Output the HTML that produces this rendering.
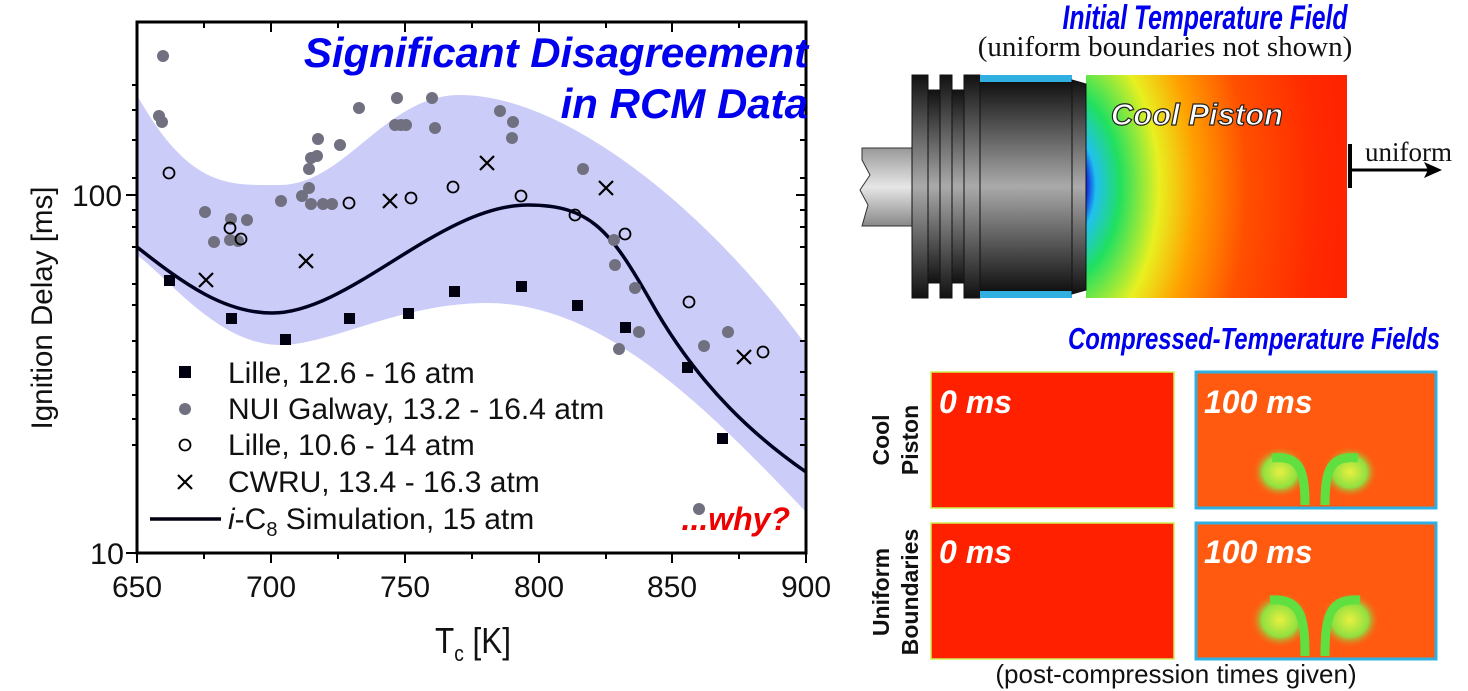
<!DOCTYPE html>
<html><head><meta charset="utf-8"><style>
html,body{margin:0;padding:0;background:#fff;}
svg{display:block;font-family:"Liberation Sans",sans-serif;}
</style></head><body>
<svg width="1468" height="691" viewBox="0 0 1468 691" xmlns="http://www.w3.org/2000/svg">
<defs>
<linearGradient id="metal" x1="0" y1="0" x2="0" y2="1">
<stop offset="0" stop-color="#111"/><stop offset="0.5" stop-color="#aaa"/><stop offset="1" stop-color="#111"/></linearGradient>
<linearGradient id="rod" x1="0" y1="0" x2="0" y2="1">
<stop offset="0" stop-color="#999"/><stop offset="0.5" stop-color="#e6e6e6"/><stop offset="1" stop-color="#888"/></linearGradient>
<radialGradient id="temp" gradientUnits="userSpaceOnUse" cx="1060" cy="186" r="300" gradientTransform="translate(1060 186) scale(1 1.6) translate(-1060 -186)">
<stop offset="0.09" stop-color="#1030e0"/><stop offset="0.12" stop-color="#20c0f0"/><stop offset="0.2" stop-color="#20e060"/><stop offset="0.33" stop-color="#e8f020"/><stop offset="0.45" stop-color="#ffa000"/><stop offset="0.62" stop-color="#ff5000"/><stop offset="0.85" stop-color="#ff2a00"/><stop offset="1" stop-color="#ff2000"/></radialGradient>
<radialGradient id="plume" cx="0.5" cy="0.5" r="0.5">
<stop offset="0" stop-color="#e8f040"/><stop offset="0.6" stop-color="#90e040"/><stop offset="1" stop-color="#ff5a10" stop-opacity="0"/></radialGradient>
</defs>

<path d="M137,95 C190,190 230,185 280,185 C345,185 385,95 460,95 C560,95 700,200 806,345 L806,512 C700,400 600,303 487,303 C400,303 330,345 280,345 C220,345 170,280 137,255 Z" fill="#ccccf8"/>
<path d="M137,247 C185,285 225,313 272,313 C350,313 440,205 528,205 C590,205 610,230 650,300 C700,390 760,440 806,472" fill="none" stroke="#000020" stroke-width="3.5"/>

<g fill="#707080">
<circle cx="163" cy="56" r="6"/><circle cx="159" cy="116" r="6"/><circle cx="162" cy="122" r="6"/>
<circle cx="205" cy="212" r="6"/><circle cx="214" cy="242" r="6"/><circle cx="230" cy="240" r="6"/><circle cx="231" cy="219" r="6"/><circle cx="247" cy="220" r="6"/><circle cx="238" cy="241" r="6"/>
<circle cx="281" cy="201" r="6"/><circle cx="302" cy="196" r="6"/><circle cx="309" cy="169" r="6"/><circle cx="311" cy="158" r="6"/><circle cx="317" cy="156" r="6"/><circle cx="309" cy="188" r="6"/><circle cx="311" cy="204" r="6"/><circle cx="323" cy="204" r="6"/><circle cx="332" cy="204" r="6"/>
<circle cx="318" cy="139" r="6"/><circle cx="340" cy="145" r="6"/><circle cx="359" cy="108" r="6"/>
<circle cx="397" cy="98" r="6"/><circle cx="395" cy="125" r="6"/><circle cx="401" cy="125" r="6"/><circle cx="406" cy="125" r="6"/>
<circle cx="432" cy="98" r="6"/><circle cx="435" cy="128" r="6"/>
<circle cx="500" cy="111" r="6"/><circle cx="513" cy="122" r="6"/><circle cx="512" cy="138" r="6"/>
<circle cx="583" cy="169" r="6"/><circle cx="614" cy="240" r="6"/><circle cx="615" cy="265" r="6"/><circle cx="619" cy="349" r="6"/><circle cx="635" cy="288" r="6"/>
<circle cx="639" cy="332" r="6"/><circle cx="704" cy="346" r="6"/><circle cx="728" cy="332" r="6"/><circle cx="699" cy="509" r="6"/>
</g>
<g fill="none" stroke="#000" stroke-width="1.8">
<circle cx="169" cy="173" r="5.5"/><circle cx="230" cy="228" r="5.5"/><circle cx="241" cy="239" r="5.5"/><circle cx="349" cy="203" r="5.5"/><circle cx="411" cy="198" r="5.5"/><circle cx="453" cy="187" r="5.5"/><circle cx="521" cy="196" r="5.5"/><circle cx="575" cy="215" r="5.5"/><circle cx="625" cy="234" r="5.5"/><circle cx="689" cy="302" r="5.5"/><circle cx="763" cy="352" r="5.5"/>
</g>
<g fill="#000010">
<rect x="164" y="275" width="11" height="11"/><rect x="226" y="313" width="11" height="11"/><rect x="280" y="334" width="11" height="11"/><rect x="344" y="313" width="11" height="11"/><rect x="403" y="308" width="11" height="11"/><rect x="449" y="286" width="11" height="11"/><rect x="516" y="281" width="11" height="11"/><rect x="572" y="300" width="11" height="11"/><rect x="620" y="322" width="11" height="11"/><rect x="682" y="362" width="11" height="11"/><rect x="717" y="433" width="11" height="11"/>
</g>
<g stroke="#000" stroke-width="2.2">
<path d="M199,273 l14,14 M213,273 l-14,14"/><path d="M299,254 l14,14 M313,254 l-14,14"/><path d="M383,194 l14,14 M397,194 l-14,14"/><path d="M480,156 l14,14 M494,156 l-14,14"/><path d="M599,181 l14,14 M613,181 l-14,14"/><path d="M737,350 l14,14 M751,350 l-14,14"/>
</g>

<rect x="137" y="22" width="669" height="531" fill="none" stroke="#000" stroke-width="3"/>
<g stroke="#000" stroke-width="2">
<path d="M137,553 v10 M204,553 v6 M271,553 v10 M338,553 v6 M405,553 v10 M472,553 v6 M539,553 v10 M606,553 v6 M672,553 v10 M739,553 v6 M806,553 v10"/>
<path d="M137,22 v10 M204,22 v6 M271,22 v10 M338,22 v6 M405,22 v10 M472,22 v6 M539,22 v10 M606,22 v6 M672,22 v10 M739,22 v6"/>
<path d="M126,195 h11 M126,553 h11 M806,195 h-10"/>
<path d="M132,85 h5 M132,110 h5 M132,140 h5 M132,178 h5 M132,445 h5 M132,419 h5 M132,395 h5 M132,372 h5 M132,341 h5 M132,305 h5 M132,247 h5 M132,227 h5 M132,210 h5 M132,284 h5"/>
<path d="M806,85 h-6 M806,110 h-6 M806,140 h-6 M806,178 h-6 M806,445 h-6 M806,419 h-6 M806,395 h-6 M806,372 h-6 M806,341 h-6 M806,305 h-6 M806,247 h-6 M806,227 h-6 M806,210 h-6 M806,284 h-6"/>
</g>
<g font-size="30" fill="#111" text-anchor="middle">
<text x="137" y="597">650</text><text x="271" y="597">700</text><text x="405" y="597">750</text><text x="539" y="597">800</text><text x="672" y="597">850</text><text x="806" y="597">900</text>
<text x="97" y="206" textLength="50" lengthAdjust="spacingAndGlyphs">100</text><text x="107" y="564" textLength="34" lengthAdjust="spacingAndGlyphs">10</text>
<text x="473" y="653" font-size="36" textLength="76" lengthAdjust="spacingAndGlyphs">T<tspan font-size="22" dy="8">c</tspan><tspan dy="-8"> [K]</tspan></text>
<text transform="translate(52,308) rotate(-90)" font-size="30" textLength="243" lengthAdjust="spacingAndGlyphs">Ignition Delay [ms]</text>
</g>

<rect x="179" y="366" width="12" height="12" fill="#000010"/>
<circle cx="185" cy="409" r="6" fill="#707080"/>
<circle cx="185" cy="445" r="5.5" fill="none" stroke="#000" stroke-width="1.8"/>
<path d="M178,475 l14,14 M192,475 l-14,14" stroke="#000" stroke-width="2.2"/>
<path d="M150,519 h71" stroke="#000010" stroke-width="3.5"/>
<g font-size="30" fill="#111">
<text x="228" y="383">Lille, 12.6 - 16 atm</text>
<text x="228" y="419">NUI Galway, 13.2 - 16.4 atm</text>
<text x="228" y="455">Lille, 10.6 - 14 atm</text>
<text x="228" y="492">CWRU, 13.4 - 16.3 atm</text>
<text x="228" y="529"><tspan font-style="italic">i</tspan>-C<tspan font-size="20" dy="7">8</tspan><tspan dy="-7"> Simulation, 15 atm</tspan></text>
</g>
<g font-weight="bold" font-style="italic" fill="#0000ee" font-size="42" text-anchor="end">
<text x="808" y="67">Significant Disagreement</text>
<text x="808" y="118">in RCM Data</text>
</g>
<text x="790" y="530" font-weight="bold" font-style="italic" fill="#ee0000" font-size="32" text-anchor="end">...why?</text>

<text x="1205" y="29" text-anchor="middle" font-weight="bold" font-style="italic" fill="#0000ee" font-size="34" textLength="285" lengthAdjust="spacingAndGlyphs">Initial Temperature Field</text>
<text x="1165" y="56" text-anchor="middle" font-family="Liberation Serif,serif" font-size="29" fill="#111">(uniform boundaries not shown)</text>
<rect x="1086" y="75" width="261" height="223" fill="url(#temp)"/>
<path d="M862,148 L912,148 L912,226 L862,226 L868,205 L860,190 L870,175 L862,160 Z" fill="url(#rod)" stroke="#333"/>
<rect x="912" y="75" width="16" height="223" fill="url(#metal)" stroke="#111"/>
<rect x="928" y="90" width="12" height="193" fill="url(#metal)" stroke="#111"/>
<rect x="940" y="75" width="12" height="223" fill="url(#metal)" stroke="#111"/>
<rect x="952" y="90" width="12" height="193" fill="url(#metal)" stroke="#111"/>
<rect x="964" y="75" width="16" height="223" fill="url(#metal)" stroke="#111"/>
<rect x="980" y="82" width="92" height="209" fill="url(#metal)" stroke="#111"/>
<rect x="980" y="75" width="92" height="7" fill="#30b0e0"/>
<rect x="980" y="291" width="92" height="7" fill="#30b0e0"/>
<path d="M1072,80 L1086,84 L1086,290 L1072,294 Z" fill="url(#metal)" stroke="#111"/>
<text x="1197" y="125" text-anchor="middle" font-style="italic" font-weight="bold" font-size="31" fill="#fff" stroke="#222" stroke-width="1.2">Cool Piston</text>
<path d="M1350,144 v44" stroke="#000" stroke-width="4"/>
<path d="M1350,170 h78" stroke="#000" stroke-width="3"/>
<path d="M1442,170 l-18,-8 l4,8 l-4,8 z" fill="#000"/>
<text x="1365" y="161" font-family="Liberation Serif,serif" font-size="27" fill="#111">uniform</text>

<text x="1254" y="349" text-anchor="middle" font-weight="bold" font-style="italic" fill="#0000ee" font-size="31" textLength="372" lengthAdjust="spacingAndGlyphs">Compressed-Temperature Fields</text>
<g>
<rect x="931" y="372" width="243" height="136" fill="#ff2000" stroke="#d0f050" stroke-width="1.5"/>
<rect x="931" y="523" width="243" height="136" fill="#ff2000" stroke="#d0f050" stroke-width="1.5"/>
<rect x="1196" y="372" width="240" height="136" fill="#ff5a10" stroke="#30b0e0" stroke-width="3"/>
<rect x="1196" y="523" width="240" height="136" fill="#ff5a10" stroke="#30b0e0" stroke-width="3"/>
<ellipse cx="1280" cy="472" rx="28" ry="26" fill="url(#plume)"/><ellipse cx="1350" cy="472" rx="28" ry="26" fill="url(#plume)"/>
<path d="M1305,505 C1305,470 1300,455 1272,458 M1325,505 C1325,470 1330,455 1358,458" stroke="#60e040" stroke-width="9" fill="none"/>
<ellipse cx="1280" cy="620" rx="30" ry="28" fill="url(#plume)"/><ellipse cx="1350" cy="620" rx="30" ry="28" fill="url(#plume)"/>
<path d="M1305,656 C1305,615 1300,598 1270,600 M1325,656 C1325,615 1330,598 1360,600" stroke="#60e040" stroke-width="9" fill="none"/>
</g>
<g font-weight="bold" font-style="italic" fill="#fff" font-size="32">
<text x="939" y="413">0 ms</text><text x="1204" y="413">100 ms</text>
<text x="939" y="563">0 ms</text><text x="1204" y="563">100 ms</text>
</g>
<g font-weight="bold" font-size="23" fill="#111" text-anchor="middle">
<text transform="translate(889,440) rotate(-90)">Cool</text>
<text transform="translate(918,440) rotate(-90)">Piston</text>
<text transform="translate(889,592) rotate(-90)">Uniform</text>
<text transform="translate(918,592) rotate(-90)">Boundaries</text>
</g>
<text x="1176" y="683" text-anchor="middle" font-size="26" fill="#111">(post-compression times given)</text>
</svg>
</body></html>
